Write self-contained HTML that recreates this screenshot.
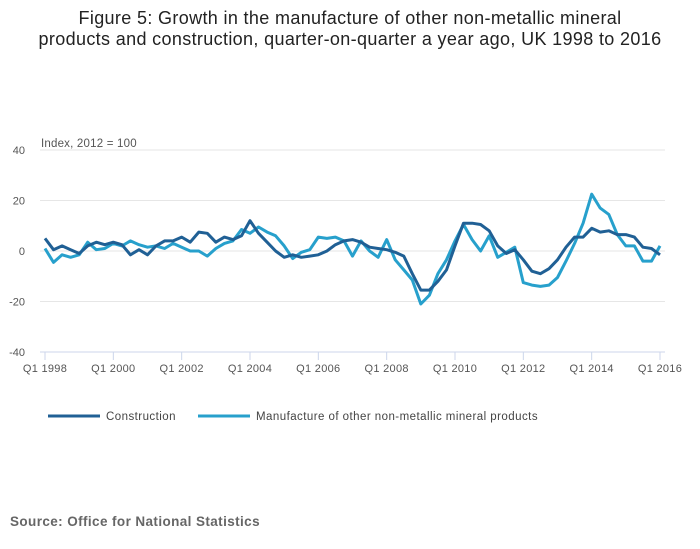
<!DOCTYPE html>
<html><head><meta charset="utf-8"><style>
body{margin:0;background:#fff;font-family:"Liberation Sans",sans-serif;}
#wrap{position:relative;width:700px;height:549px;overflow:hidden}
</style></head><body>
<div id="wrap">
<svg id="chart" width="700" height="549"></svg>
</div>
<script>
const quarterLabels=["Q1 1998","Q1 2000","Q1 2002","Q1 2004","Q1 2006","Q1 2008","Q1 2010","Q1 2012","Q1 2014","Q1 2016"];
const yTicks=[40,20,0,-20,-40];
const construction=[5,0.5,2,0.5,-1,2,3.5,2.5,3.5,2.5,-1.5,0.5,-1.5,2,4,4,5.5,3.5,7.5,7,3.5,5.5,4.5,6,12,7,3.5,0,-2.5,-1.5,-2.5,-2,-1.5,0,2.5,4,4.5,3.5,1.5,1,0.5,-0.5,-2,-9,-15.5,-15.5,-12,-7.5,2,11,11,10.5,8,2,-1,0.5,-3.5,-8,-9,-7,-3.5,1.5,5.5,5.5,9,7.5,8,6.5,6.5,5.5,1.5,1,-1.5];
const manufacture=[1,-4.5,-1.5,-2.5,-1.5,3.5,0.5,1,3,2,4,2.5,1.5,2,1,3,1.5,0,0,-2,1,3,4,8.5,7,9.5,7.5,6,2,-3,-0.5,0.5,5.5,5,5.5,4,-2,4,0,-2.5,4.5,-3.5,-7.5,-11.5,-21,-17.5,-9,-3.5,4,10.5,4.5,0,6,-2.5,-0.5,1.5,-12.5,-13.5,-14,-13.5,-10.5,-4,3,11,22.5,17,14.5,6.5,2,2,-4,-4,2];
const NS="http://www.w3.org/2000/svg";
const svg=document.getElementById('chart');
const x0=45,x1=660,yTop=150,yBot=352;
const xS=i=>x0+(x1-x0)*i/(construction.length-1);
const yS=v=>yTop+(40-v)/80*(yBot-yTop);
function mk(t,a,txt){const e=document.createElementNS(NS,t);for(const k in a)e.setAttribute(k,a[k]);if(txt!==undefined)e.textContent=txt;svg.appendChild(e);return e;}
let e;
e=mk('text',{x:350,y:24,'text-anchor':'middle','font-size':18,'letter-spacing':0.35,fill:'#222'},'Figure 5: Growth in the manufacture of other non-metallic mineral');


e=mk('text',{x:350,y:45,'text-anchor':'middle','font-size':18,'letter-spacing':0.35,fill:'#222'},'products and construction, quarter-on-quarter a year ago, UK 1998 to 2016');


e=mk('text',{x:41,y:147,'font-size':11.5,'letter-spacing':0.2,fill:'#555'},'Index, 2012 = 100');


yTicks.forEach(v=>{
  e=mk('line',{x1:x0-5,x2:665,y1:yS(v),y2:yS(v),stroke:v===-40?'#ccd6eb':'#e6e6e6','stroke-width':1});
  
  
  e=mk('text',{x:25,y:yS(v)+4,'text-anchor':'end','font-size':11,fill:'#555'},String(v));
  
  
});
quarterLabels.forEach((l,k)=>{
  const xx=xS(k*8);
  e=mk('line',{x1:xx,x2:xx,y1:yBot,y2:yBot+8,stroke:'#ccd6eb'});
  
  
  e=mk('text',{x:xx,y:yBot+20,'text-anchor':'middle','font-size':11,'letter-spacing':0.3,fill:'#555'},l);
  
  
});
function line(arr,col,name){
  const d=arr.map((v,i)=>(i?'L':'M')+xS(i).toFixed(1)+','+yS(v).toFixed(1)).join(' ');
  const p=mk('path',{d:d,fill:'none',stroke:col,'stroke-width':3,'stroke-linejoin':'round'});
  
  
}
line(manufacture,'#27a0cc','manufacture-line');
line(construction,'#206095','construction-line');
e=mk('line',{x1:48,x2:100,y1:416,y2:416,stroke:'#206095','stroke-width':3});


e=mk('text',{x:106,y:420,'font-size':11.5,'letter-spacing':0.45,fill:'#444'},'Construction');


e=mk('line',{x1:198,x2:250,y1:416,y2:416,stroke:'#27a0cc','stroke-width':3});


e=mk('text',{x:256,y:420,'font-size':11.5,'letter-spacing':0.45,fill:'#444'},'Manufacture of other non-metallic mineral products');


e=mk('text',{x:10,y:526,'font-size':13.5,'font-weight':'bold','letter-spacing':0.4,fill:'#666'},'Source: Office for National Statistics');


</script>
</body></html>
